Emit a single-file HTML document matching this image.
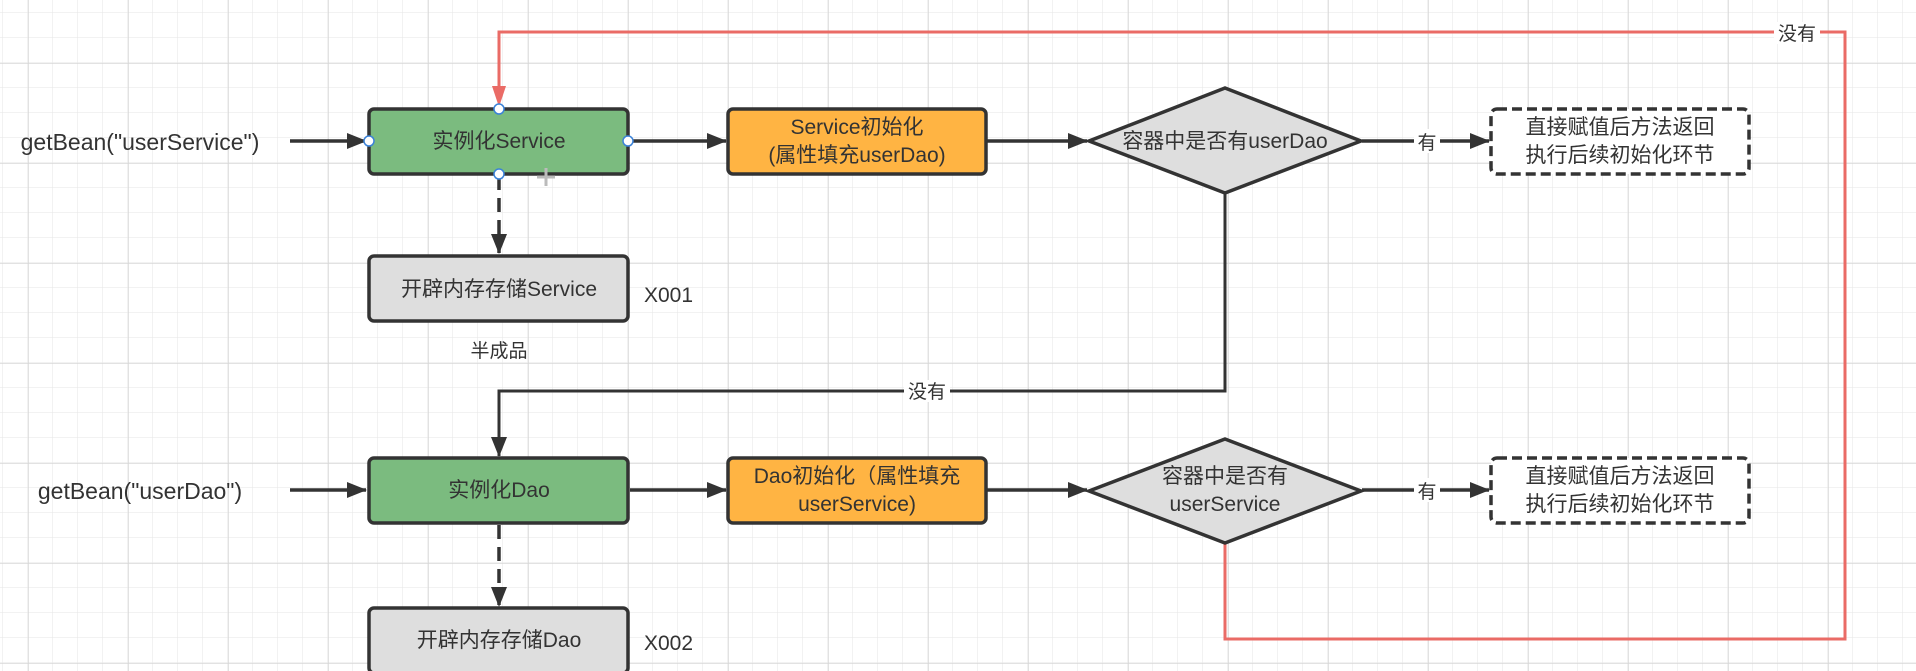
<!DOCTYPE html>
<html><head><meta charset="utf-8"><style>
html,body{margin:0;padding:0;background:#fff;}
svg{display:block;}
text{font-family:"Liberation Sans","Noto Sans CJK SC",sans-serif;fill:#333;}
</style></head><body>
<svg width="1916" height="671" viewBox="0 0 1916 671" xmlns="http://www.w3.org/2000/svg">
<defs>
<pattern id="g" x="3" y="13" width="25" height="25" patternUnits="userSpaceOnUse"><path d="M25 0V25M0 25H25" stroke="#e6e6e6" stroke-width="1" fill="none"/></pattern>
<pattern id="G" x="28" y="63" width="100" height="100" patternUnits="userSpaceOnUse"><path d="M0 0V100M0 0H100" stroke="#d8d8d8" stroke-width="1.5" fill="none"/></pattern>
<marker id="ak" viewBox="0 0 20 16" markerWidth="20" markerHeight="16" refX="19" refY="8" orient="auto" markerUnits="userSpaceOnUse"><path d="M0 0L20 8L0 16z" fill="#333"/></marker>
</defs>
<rect width="1916" height="671" fill="#fff"/>
<rect width="1916" height="671" fill="url(#g)"/>
<rect width="1916" height="671" fill="url(#G)"/>

<!-- red loop -->
<path d="M1225 543V639H1845V32H499V92" fill="none" stroke="#ea6b66" stroke-width="3"/>
<path d="M492 86L506 86L499 107z" fill="#ea6b66"/>
<rect x="1774" y="22" width="46" height="22" fill="#fff"/>
<text x="1797" y="40" font-size="19" text-anchor="middle">没有</text>

<g stroke="#333" stroke-width="3.5" fill="none">
<path d="M290 141H366" marker-end="url(#ak)"/>
<path d="M630 141H726" marker-end="url(#ak)"/>
<path d="M987 141H1087" marker-end="url(#ak)"/>
<path d="M1362 141H1489" marker-end="url(#ak)"/>
<path d="M499 176V253" stroke-dasharray="14 8" marker-end="url(#ak)"/>
<path d="M1225 194V391H499V456" stroke-width="3" marker-end="url(#ak)"/>
<path d="M290 490H366" marker-end="url(#ak)"/>
<path d="M630 490H726" marker-end="url(#ak)"/>
<path d="M987 490H1087" marker-end="url(#ak)"/>
<path d="M1362 490H1489" marker-end="url(#ak)"/>
<path d="M499 525V606" stroke-dasharray="14 8" marker-end="url(#ak)"/>
</g>
<rect x="1414" y="129" width="26" height="24" fill="#fff"/>
<text x="1427" y="149" font-size="19" text-anchor="middle">有</text>
<rect x="1414" y="478" width="26" height="24" fill="#fff"/>
<text x="1427" y="498" font-size="19" text-anchor="middle">有</text>
<rect x="904" y="380" width="46" height="22" fill="#fff"/>
<text x="927" y="398" font-size="19" text-anchor="middle">没有</text>

<text x="140" y="150" font-size="23" text-anchor="middle">getBean("userService")</text>
<text x="140" y="499" font-size="23" text-anchor="middle">getBean("userDao")</text>

<rect x="369" y="109" width="259" height="65" rx="5" fill="#7bbb7f" stroke="#333" stroke-width="3.5"/>
<text x="499" y="148" font-size="21" text-anchor="middle">实例化Service</text>
<g fill="#fff" stroke="#3b82d8" stroke-width="1.5">
<circle cx="499" cy="109" r="5"/><circle cx="499" cy="174" r="5"/><circle cx="369" cy="141" r="5"/><circle cx="628" cy="141" r="5"/>
</g>
<path d="M546 168V186M537 177H555" stroke="#bbb" stroke-width="3"/>
<rect x="728" y="109" width="258" height="65" rx="5" fill="#ffb443" stroke="#333" stroke-width="3.5"/>
<text x="857" y="134" font-size="21" text-anchor="middle">Service初始化</text>
<text x="857" y="162" font-size="21" text-anchor="middle">(属性填充userDao)</text>
<path d="M1225 88L1361 141L1225 193L1089 141z" fill="#dedede" stroke="#333" stroke-width="3.5"/>
<text x="1225" y="148" font-size="21" text-anchor="middle">容器中是否有userDao</text>
<rect x="1491" y="109" width="258" height="65" rx="6" fill="#fff" stroke="#333" stroke-width="3.5" stroke-dasharray="10 5"/>
<text x="1620" y="134" font-size="21" text-anchor="middle">直接赋值后方法返回</text>
<text x="1620" y="162" font-size="21" text-anchor="middle">执行后续初始化环节</text>

<rect x="369" y="256" width="259" height="65" rx="5" fill="#dedede" stroke="#333" stroke-width="3.5"/>
<text x="499" y="296" font-size="21" text-anchor="middle">开辟内存存储Service</text>
<text x="644" y="302" font-size="21">X001</text>
<text x="499" y="357" font-size="19" text-anchor="middle">半成品</text>

<rect x="369" y="458" width="259" height="65" rx="5" fill="#7bbb7f" stroke="#333" stroke-width="3.5"/>
<text x="499" y="497" font-size="21" text-anchor="middle">实例化Dao</text>
<rect x="728" y="458" width="258" height="65" rx="5" fill="#ffb443" stroke="#333" stroke-width="3.5"/>
<text x="857" y="483" font-size="21" text-anchor="middle">Dao初始化（属性填充</text>
<text x="857" y="511" font-size="21" text-anchor="middle">userService)</text>
<path d="M1225 439L1361 491L1225 543L1089 491z" fill="#dedede" stroke="#333" stroke-width="3.5"/>
<text x="1225" y="483" font-size="21" text-anchor="middle">容器中是否有</text>
<text x="1225" y="511" font-size="21" text-anchor="middle">userService</text>
<rect x="1491" y="458" width="258" height="65" rx="6" fill="#fff" stroke="#333" stroke-width="3.5" stroke-dasharray="10 5"/>
<text x="1620" y="483" font-size="21" text-anchor="middle">直接赋值后方法返回</text>
<text x="1620" y="511" font-size="21" text-anchor="middle">执行后续初始化环节</text>

<rect x="369" y="608" width="259" height="65" rx="5" fill="#dedede" stroke="#333" stroke-width="3.5"/>
<text x="499" y="647" font-size="21" text-anchor="middle">开辟内存存储Dao</text>
<text x="644" y="650" font-size="21">X002</text>
</svg>
</body></html>
